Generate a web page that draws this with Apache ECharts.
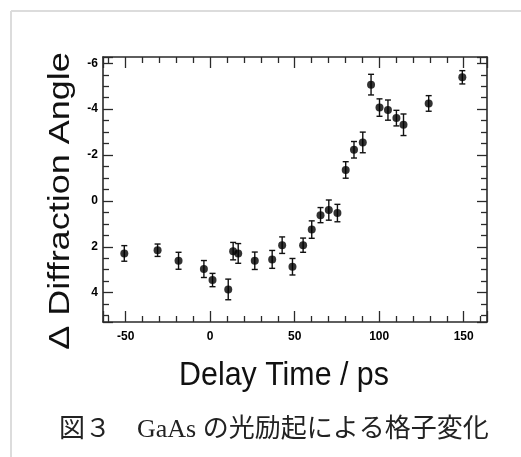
<!DOCTYPE html>
<html>
<head>
<meta charset="utf-8">
<script src="https://cdn.jsdelivr.net/npm/echarts@6/dist/echarts.min.js"></script>
<style>
html,body{margin:0;padding:0;background:#fff;}
#main{width:521px;height:457px;}
</style>
</head>
<body>
<div id="main"></div>
<script>
// 遅延時間 (ps)
var delayTime = [-50.8, -31.1, -18.7, -3.7, 1.4, 10.7, 13.6, 16.6, 26.4, 36.7, 42.6, 48.7,
    55.0, 60.1, 65.3, 70.2, 75.3, 80.2, 85.1, 90.3, 95.2, 100.2, 105.2, 110.2, 114.4, 129.3, 149.2];
// 回折角の変化
var angleShift = [2.29, 2.15, 2.61, 2.97, 3.45, 3.86, 2.19, 2.29, 2.61, 2.55, 1.93, 2.87,
    1.93, 1.25, 0.62, 0.40, 0.53, -1.35, -2.23, -2.55, -5.07, -4.07, -3.96, -3.61, -3.32, -4.25, -5.39];
// 誤差 (±)
var angleErr = [0.34, 0.27, 0.37, 0.37, 0.29, 0.45, 0.38, 0.43, 0.38, 0.39, 0.36, 0.36,
    0.31, 0.38, 0.33, 0.44, 0.38, 0.36, 0.36, 0.45, 0.45, 0.38, 0.44, 0.34, 0.47, 0.34, 0.29];

var xTitle = 'Delay Time / ps';
var yTitle = 'Δ Diffraction Angle';
var caption = '図３　GaAs の光励起による格子変化';

(function(){
    var myChart = echarts.init(document.getElementById('main'));
    var points = delayTime.map(function(t, i){ return [t, angleShift[i]]; });
    var bars = delayTime.map(function(t, i){
        return [t, angleShift[i] - angleErr[i], angleShift[i] + angleErr[i]];
    });

    var lineCol = '#2a2a2a';
    function xAx(pos, showLabel){
        return {
            type: 'value',
            position: pos,
            min: -63.4,
            max: 163.8,
            splitNumber: 5,
            minInterval: 50,
            maxInterval: 50,
            axisLine: { show: true, onZero: false, lineStyle: { color: lineCol, width: 1.6 } },
            axisTick: { show: true, inside: true, length: 11, lineStyle: { color: lineCol, width: 1.3 } },
            minorTick: { show: true, splitNumber: 5, length: 6, lineStyle: { color: lineCol, width: 1.3 } },
            axisLabel: {
                show: showLabel,
                showMinLabel: false,
                showMaxLabel: false,
                margin: 9,
                color: '#000',
                fontFamily: 'Liberation Sans',
                fontWeight: 'bold',
                fontSize: 12
            },
            splitLine: { show: false }
        };
    }
    function yAx(pos, showLabel){
        return {
            type: 'value',
            position: pos,
            inverse: true,
            min: -6.275,
            max: 5.28,
            splitNumber: 5,
            minInterval: 2,
            maxInterval: 2,
            axisLine: { show: true, onZero: false, lineStyle: { color: lineCol, width: 1.6 } },
            axisTick: { show: true, inside: true, length: 10, lineStyle: { color: lineCol, width: 1.3 } },
            minorTick: { show: true, splitNumber: 4, length: 6, lineStyle: { color: lineCol, width: 1.3 } },
            axisLabel: {
                show: showLabel,
                showMinLabel: false,
                showMaxLabel: false,
                margin: 5,
                color: '#000',
                fontFamily: 'Liberation Sans',
                fontWeight: 'bold',
                fontSize: 12
            },
            splitLine: { show: false }
        };
    }

    var option = {
        backgroundColor: '#fff',
        animation: false,
        grid: { left: 103, right: 34, top: 57, bottom: 135 },
        xAxis: [ xAx('bottom', true), xAx('top', false) ],
        yAxis: [ yAx('left', true), yAx('right', false) ],
        graphic: [
            // 外枠
            { type: 'line', shape: { x1: 11, y1: 11, x2: 521, y2: 11 }, style: { stroke: '#dcdcdc', lineWidth: 2 } },
            { type: 'line', shape: { x1: 11, y1: 11, x2: 11, y2: 457 }, style: { stroke: '#dcdcdc', lineWidth: 2 } },
            {
                type: 'text', x: 61, y: 201, rotation: Math.PI / 2, scaleX: 1.2,
                style: { text: yTitle, font: '30px "Liberation Sans"', fill: '#111', align: 'center', verticalAlign: 'middle' }
            },
            {
                type: 'text', x: 284, y: 376, scaleX: 0.92,
                style: { text: xTitle, font: '33px "Liberation Sans"', fill: '#111', align: 'center', verticalAlign: 'middle' }
            },
            {
                type: 'text', x: 59, y: 430,
                style: { text: caption, font: '26px "Liberation Serif", "Noto Sans CJK JP"', fill: '#222', align: 'left', verticalAlign: 'middle' }
            }
        ],
        series: [
            {
                // エラーバー
                type: 'custom',
                xAxisIndex: 0,
                yAxisIndex: 0,
                data: bars,
                renderItem: function(params, api){
                    var lo = api.coord([api.value(0), api.value(1)]);
                    var hi = api.coord([api.value(0), api.value(2)]);
                    var w = 3;
                    var st = { stroke: '#111', lineWidth: 1.4 };
                    return {
                        type: 'group',
                        children: [
                            { type: 'line', shape: { x1: lo[0], y1: lo[1], x2: hi[0], y2: hi[1] }, style: st },
                            { type: 'line', shape: { x1: lo[0] - w, y1: lo[1], x2: lo[0] + w, y2: lo[1] }, style: st },
                            { type: 'line', shape: { x1: hi[0] - w, y1: hi[1], x2: hi[0] + w, y2: hi[1] }, style: st }
                        ]
                    };
                },
                z: 2
            },
            {
                type: 'scatter',
                data: points,
                symbol: 'circle',
                symbolSize: 8,
                itemStyle: { color: '#000' },
                z: 3
            }
        ]
    };
    myChart.setOption(option);
    window.addEventListener('resize', function(){
        myChart.resize();
    });
})();
</script>
</body>
</html>
